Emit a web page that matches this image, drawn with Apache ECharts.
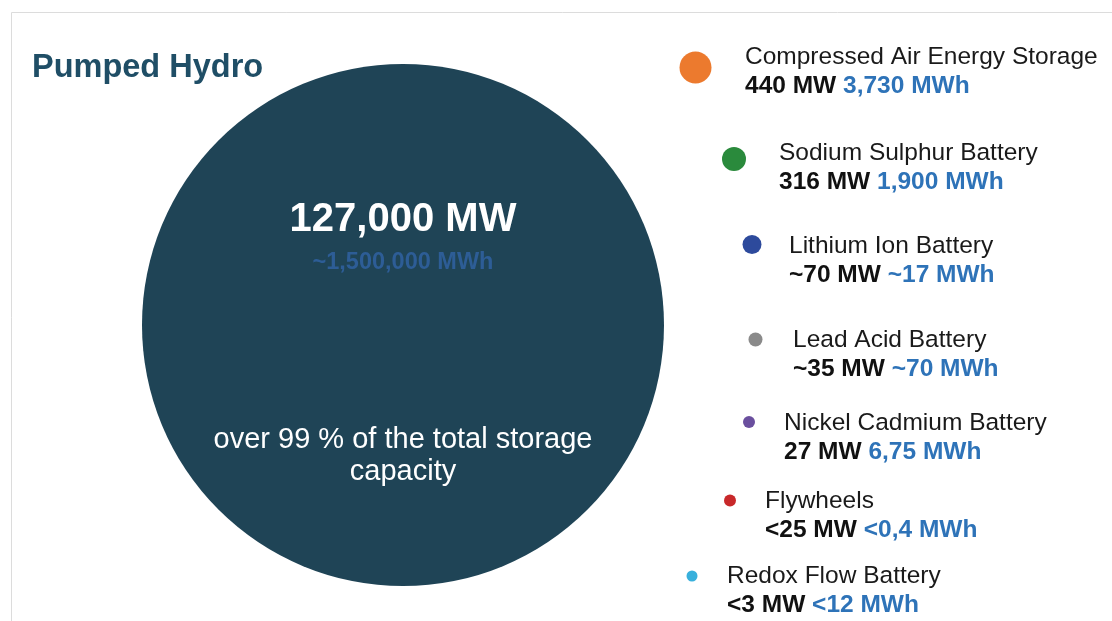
<!DOCTYPE html>
<html>
<head>
<meta charset="utf-8">
<script src="https://cdn.jsdelivr.net/npm/echarts@6/dist/echarts.min.js"></script>
<style>
  html, body { margin: 0; padding: 0; background: #ffffff; }
  #chart { width: 1112px; height: 621px; }
</style>
</head>
<body>
<div id="chart"></div>
<script>
// ---------- DATA ----------
const mainName = 'Pumped Hydro';
const mainMW = '127,000 MW';
const mainMWh = '~1,500,000 MWh';
const mainNote = ['over 99 % of the total storage', 'capacity'];

const techNames = [
  'Compressed Air Energy Storage',
  'Sodium Sulphur Battery',
  'Lithium Ion Battery',
  'Lead Acid Battery',
  'Nickel Cadmium Battery',
  'Flywheels',
  'Redox Flow Battery'
];
const techMW = ['440 MW', '316 MW', '~70 MW', '~35 MW', '27 MW', '<25 MW', '<3 MW'];
const techMWh = ['3,730 MWh', '1,900 MWh', '~17 MWh', '~70 MWh', '6,75 MWh', '<0,4 MWh', '<12 MWh'];

// ---------- LAYOUT / STYLE ----------
const techColors = ['#ec7a2e', '#2a8a3c', '#2d4a9c', '#8a8a8a', '#6a4f9e', '#c8282a', '#38b0dc'];
const dotX = [695.5, 734, 752, 755.5, 749, 730, 692];
const dotY = [67.5, 159, 244.5, 339.5, 422, 500.5, 576];
const dotSize = [32, 24, 19, 14, 12, 12, 11];
const textX = [745, 779, 789, 793, 784, 765, 727];
const textDy = [4, 9, 16, 15, 16, 15, 15];
const mainX = 403, mainY = 325, mainSize = 522;

const FONT = '"Liberation Sans", Arial, sans-serif';

const chart = echarts.init(document.getElementById('chart'), null, { renderer: 'canvas' });

const techData = techNames.map((n, i) => ({
  value: [dotX[i], dotY[i]],
  name: n,
  symbolSize: dotSize[i],
  itemStyle: { color: techColors[i], opacity: 1 },
  label: {
    show: true,
    position: 'right',
    distance: textX[i] - dotX[i] - dotSize[i] / 2,
    offset: [0, textDy[i]],
    align: 'left',
    formatter: '{name|' + n + '}\n{mw|' + techMW[i] + ' }{mwh|' + techMWh[i] + '}',
    rich: {
      name: { fontFamily: FONT, fontSize: 24.5, color: '#1a1a1a', lineHeight: 29 },
      mw: { fontFamily: FONT, fontSize: 24.5, fontWeight: 'bold', color: '#111111', lineHeight: 29 },
      mwh: { fontFamily: FONT, fontSize: 24.5, fontWeight: 'bold', color: '#2e73b8', lineHeight: 29 }
    }
  }
}));

const option = {
  backgroundColor: '#ffffff',
  animation: false,
  title: {
    text: mainName,
    left: 27,
    top: 47,
    textStyle: { fontFamily: FONT, fontSize: 32.5, fontWeight: 'bold', color: '#1f4e66' }
  },
  graphic: [{
    type: 'rect',
    shape: { x: 11.5, y: 12.5, width: 1300, height: 800 },
    style: { fill: 'none', stroke: '#dcdcdc', lineWidth: 1 },
    silent: true,
    z: -10
  }],
  grid: { left: 0, right: 0, top: 0, bottom: 0 },
  xAxis: { type: 'value', min: 0, max: 1112, show: false },
  yAxis: { type: 'value', min: 0, max: 621, inverse: true, show: false },
  series: [
    {
      type: 'scatter',
      silent: true,
      itemStyle: { opacity: 1 },
      data: [{
        value: [mainX, mainY],
        name: mainName,
        symbolSize: mainSize,
        itemStyle: { color: '#1f4456', opacity: 1 },
        label: {
          show: true,
          position: 'inside',
          offset: [0, 18],
          formatter: '{mw|' + mainMW + '}\n{mwh|' + mainMWh + '}\n{gap| }\n{note|' + mainNote.join('}\n{note|') + '}',
          rich: {
            mw: { fontFamily: FONT, fontSize: 40, fontWeight: 'bold', color: '#ffffff', lineHeight: 44, align: 'center' },
            mwh: { fontFamily: FONT, fontSize: 23.5, fontWeight: 'bold', color: '#2d5d96', lineHeight: 42, align: 'center' },
            gap: { fontSize: 10, lineHeight: 140 },
            note: { fontFamily: FONT, fontSize: 29, color: '#ffffff', lineHeight: 32, align: 'center' }
          }
        }
      }]
    },
    {
      type: 'scatter',
      silent: true,
      itemStyle: { opacity: 1 },
      data: techData
    }
  ]
};

chart.setOption(option);
</script>
</body>
</html>
